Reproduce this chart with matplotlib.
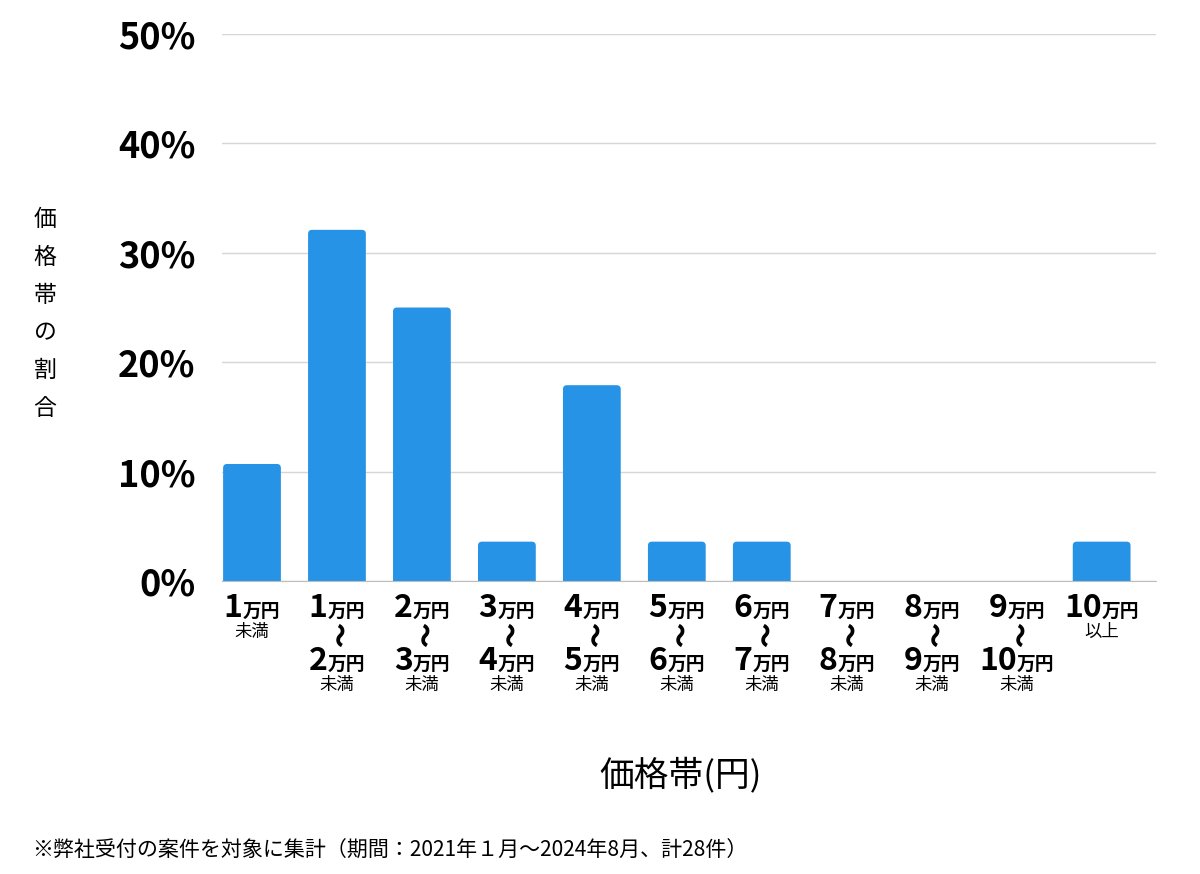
import matplotlib
matplotlib.use("Agg")
import matplotlib.pyplot as plt
from matplotlib.patches import FancyBboxPatch
from matplotlib.transforms import offset_copy

plt.rcParams['font.family'] = ['Noto Sans CJK JP', 'DejaVu Sans']

# data (share of cases per price band, %)
lower = ['1', '1', '2', '3', '4', '5', '6', '7', '8', '9', '10']
upper = [None, '2', '3', '4', '5', '6', '7', '8', '9', '10', None]
shares = [10.7, 32.1, 25.0, 3.6, 17.9, 3.6, 3.6, 0, 0, 0, 3.6]
yticks = [0, 10, 20, 30, 40, 50]
ytick_labels = ['0%', '10%', '20%', '30%', '40%', '50%']

bar_color = '#2693e6'

fig = plt.figure(figsize=(12, 8.74), dpi=100)
ax = fig.add_axes([0.185, 0.3352, 0.778, 0.6259])

x = range(len(shares))
bars = ax.bar(x, shares, width=0.68, color=bar_color, zorder=3)

ax.set_xlim(-0.353, 10.635)
ax.set_ylim(0, 50)

# swap plain bars for ones with slightly rounded tops (bottom corners fall below 0 and are clipped)
px_x = 0.778 * 1200 / (10.635 + 0.353)
px_y = 0.6259 * 874 / 50
r = 4.0
for b in bars:
    h = b.get_height()
    if h <= 0:
        continue
    x0, w = b.get_x(), b.get_width()
    b.set_visible(False)
    rx = r / px_x
    ax.add_patch(FancyBboxPatch((x0 + rx, 0), w - 2 * rx, h - r / px_y,
                                boxstyle=f'round,pad={rx},rounding_size={rx}',
                                mutation_aspect=px_x / px_y,
                                facecolor=bar_color, edgecolor='none', zorder=3))

ax.set_yticks(yticks)
ax.set_yticklabels(ytick_labels, fontsize=26, fontweight='bold')
ax.tick_params(axis='y', length=0, pad=19)
ax.set_xticks([])
ax.grid(axis='y', color='#d6d6d6', linewidth=1, zorder=0)
for s in ['top', 'right', 'left']:
    ax.spines[s].set_visible(False)
ax.spines['bottom'].set_color('#bdbdbd')
ax.spines['bottom'].set_zorder(4)

renderer = fig.canvas.get_renderer()


def tr(dx, dy):
    return offset_copy(ax.transData, fig=fig, x=dx, y=dy, units='dots')


def price_row(i, num, dy):
    n = ax.text(i, 0, num, fontsize=23, fontweight='bold', ha='left',
                va='baseline', clip_on=False)
    u = ax.text(i, 0, '万円', fontsize=13.5, fontweight='bold', ha='left',
                va='baseline', clip_on=False)
    wn = n.get_window_extent(renderer).width
    wu = u.get_window_extent(renderer).width
    start = -(wn + wu) / 2
    n.set_transform(tr(start, -dy))
    u.set_transform(tr(start + wn, -dy))


def small(i, txt, dy):
    ax.text(i, 0, txt, fontsize=12.5, ha='center', va='center',
            transform=tr(0, -dy), clip_on=False)


for i in x:
    price_row(i, lower[i], 36)
    if upper[i] is None:
        small(i, '以上' if i == len(shares) - 1 else '未満', 51)
    else:
        ax.text(i, 0, '〜', fontsize=18, fontweight='heavy', rotation=-90,
                ha='center', va='center', rotation_mode='anchor',
                transform=tr(0, -53), clip_on=False)
        price_row(i, upper[i], 89)
        small(i, '未満', 104)

fig.text(45 / 1200, 1 - 314 / 874, '\n'.join('価格帯の割合'), ha='center',
         va='center', fontsize=16.5, linespacing=1.82)
fig.text(681 / 1200, 1 - 775 / 874, '価格帯(円)', ha='center', va='center',
         fontsize=25)
fig.text(32 / 1200, 1 - 851 / 874,
         '※弊社受付の案件を対象に集計（期間：2021年１月〜2024年8月、計28件）',
         ha='left', va='center', fontsize=15.1)

fig.savefig('out.png', dpi=100)
